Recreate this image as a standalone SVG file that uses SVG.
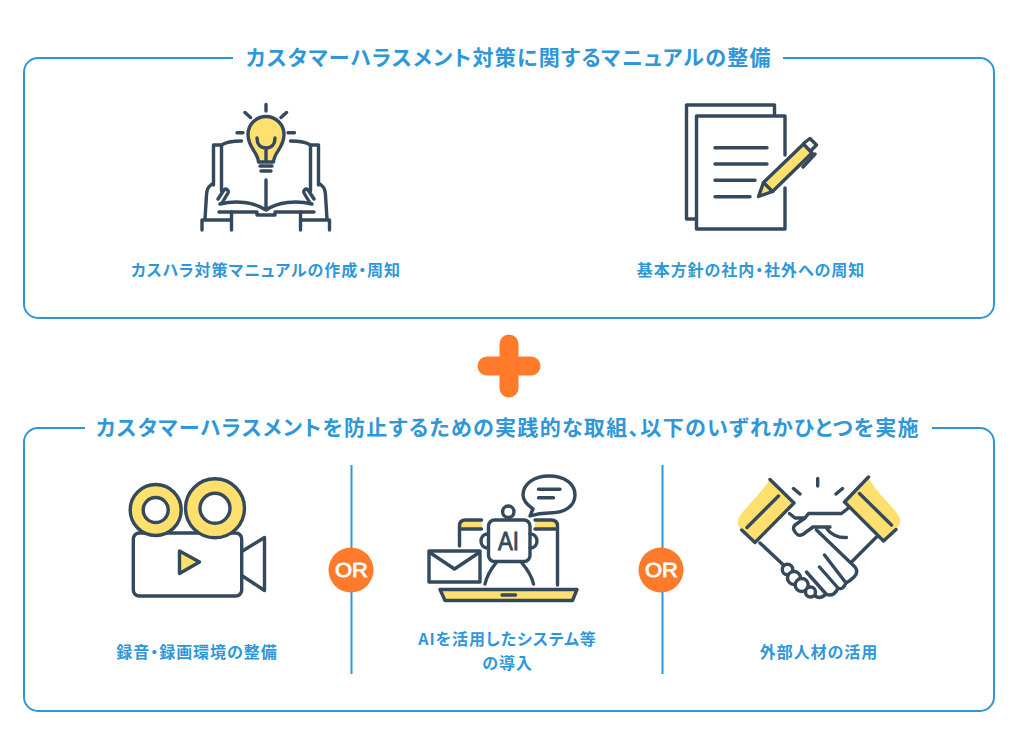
<svg xmlns="http://www.w3.org/2000/svg" width="1031" height="751" viewBox="0 0 1031 751">
<style>
.panel{fill:#fff;stroke:#2f97d8;stroke-width:2}
.title{font:700 21px "Noto Sans CJK JP","Noto Sans",sans-serif;fill:#2f97d8;text-anchor:middle;font-feature-settings:"palt";letter-spacing:1.32px}
.label{font:700 16px "Noto Sans CJK JP","Noto Sans",sans-serif;fill:#2f97d8;text-anchor:middle;font-feature-settings:"palt";letter-spacing:.95px}
.i{fill:none;stroke:#34495c;stroke-width:3.4;stroke-linecap:round;stroke-linejoin:round}
.w{fill:#fff}
.y{fill:#ffdf6e}
.ys{fill:#ffdf6e;stroke:none}
.sep{stroke:#2f97d8;stroke-width:2}
.or{fill:#ff7a2b}
.ort{font:400 20px "Liberation Sans",Arial,sans-serif;fill:#fff;stroke:#fff;stroke-width:.8}
.ai{font:400 25px "Liberation Sans",Arial,sans-serif;fill:#34495c;stroke:#34495c;stroke-width:.8}
</style>
<rect width="1031" height="751" fill="#fff"/>
<g id="panel-top">
<rect class="panel" x="24" y="58" width="970" height="260" rx="14"/>
<rect x="233" y="50" width="550" height="16" fill="#fff"/>
<text class="title" x="509" y="65">カスタマーハラスメント対策に関するマニュアルの整備</text>
</g>
<g id="plus"><path d="M509 344V388M487 366H531" fill="none" stroke="#ff7a2b" stroke-width="19" stroke-linecap="round"/></g>
<g id="panel-bottom">
<rect class="panel" x="24" y="428" width="970" height="283" rx="14"/>
<rect x="85" y="420" width="847" height="16" fill="#fff"/>
<text class="title" x="508" y="435">カスタマーハラスメントを防止するための実践的な取組、以下のいずれかひとつを実施</text>
</g>
<g id="connectors">
<path class="sep" d="M351.500 465V674M662.500 465V674"/>
</g>
<g id="or-1"><circle class="or" cx="351" cy="570" r="22.500"/><text class="ort" x="335" y="577" textLength="33" lengthAdjust="spacingAndGlyphs">OR</text></g>
<g id="or-2"><circle class="or" cx="661" cy="570" r="22.500"/><text class="ort" x="645" y="577" textLength="33" lengthAdjust="spacingAndGlyphs">OR</text></g>

<g id="node-manual">
<path class="i y" d="M258.500 162C258 152 248 148 248 134.500A18 18 0 0 1 284 134.500C284 148 274 152 273.500 162Z"/>
<path class="i" d="M257 138C257 144 260 148 266 148C272 148 275 144 275 138M266 148V161M260 166H272M261 171H271M266 104.500V111M245 112.500L250.500 117.500M286.500 112.500L281 117.500M237 132.700H243M288 132.700H294.500"/>
<path class="i" d="M241.500 141C233 141 226 142 221.500 145V191M221.500 145H213.500V185M290.500 141C299 141 306 142 310.500 145V191M310.500 145H318.500V185M266 180V210M220 204C236 200 254 202 266 210C278 202 296 200 312 204M219 212H257V215H275V212H314"/>
<path class="i" d="M212 184C207 188 207 190 206.500 195L205 219M202 230V220H231.500V230M231.500 220V212M218 199L224 190C226 188 229 190 228 193L222 203M320 184C325 188 325 190 325.500 195L327 219M329.500 230V220H300.500V230M300.500 220V212M314 199L308 190C306 188 303 190 304 193L310 203"/>
</g>
<text class="label" x="266" y="276">カスハラ対策マニュアルの作成・周知</text>

<g id="node-policy">
<path class="i" d="M774.500 115V105H686.500V219H696.500"/>
<path class="i" d="M785 155V116H696.500V229H785V188"/>
<path class="i" d="M715 147.700H767M715 164H767M715 180.300H755M715 196.700H750"/>
<path class="i y" d="M763.500 182.500L803.500 144L812 153L772.500 191.500L758.500 196.500Z"/>
<path class="i" d="M763.500 182.500L772.500 191.500M804 143L810 138.500L816.500 145L811 150.500M815 154L803 167"/>
</g>
<text class="label" x="751" y="276">基本方針の社内・社外への周知</text>

<g id="node-video">
<rect class="i w" x="133.300" y="533" width="108.400" height="63" rx="6"/>
<path class="i" d="M242.500 551L264.500 537.500V590.500L242.500 576"/>
<path class="i y" d="M179.500 551V573.500L199.500 562Z"/>
<circle class="i y" cx="155.700" cy="510" r="25.500"/>
<circle class="i w" cx="155.700" cy="510" r="12.500"/>
<circle class="i y" cx="215" cy="508.300" r="29.500"/>
<circle class="i w" cx="215" cy="508.300" r="15"/>
</g>
<text class="label" x="197" y="658">録音・録画環境の整備</text>

<g id="node-ai">
<path class="ys" d="M461 520H482V529H460ZM535 520H555L557 529H535Z"/>
<path class="i" d="M459.500 546V526Q459.500 520 465.500 520H481.500M459.500 529H481.500M535 520H551Q557.500 520 557.500 526V585M535 529H557.500"/>
<path class="i" d="M530 516L533 509C526 504 523 500 523 495C523 484 534 476 549 476C565 476 575 484 575 495C575 506 565 513 549 513C542 513 536 514 530 516ZM538.500 489.300H560M538.500 497.700H553.500"/>
<circle class="i" cx="508.300" cy="511.700" r="5.700"/>
<path class="i" d="M488 534C483 534 481 538 481 541C481 544 483 548 488 548M530 534C535 534 537 538 537 541C537 544 535 548 530 548"/>
<rect class="i" x="488.500" y="520" width="41.500" height="41.500" rx="6"/>
<text class="ai" x="498" y="550" textLength="21" lengthAdjust="spacingAndGlyphs">AI</text>
<path class="i" d="M485 584C487 575 491 569 496 563M533.500 584C531.500 575 527 569 522 563"/>
<rect class="i w" x="429" y="551" width="51" height="31"/>
<path class="i" d="M430.500 553L454.500 569L478.500 553"/>
<path class="i y" d="M440 589.500H577L572.500 600.500H445Z"/>
<path class="i" d="M502 595H515.500"/>
</g>
<text class="label" x="507.500" y="645">AIを活用したシステム等</text>
<text class="label" x="507.500" y="669">の導入</text>

<g id="node-talent">
<path class="ys" d="M770 479C762 492 750 503 742 513C736 520 737 527 742 530L755 542L794 503ZM868 477C875 490 888 502 896 512C902 519 901 525 896 529L884 541L845 502Z"/>
<path class="i" d="M770 479.500L794 503L755 542.500L741.700 530M778.500 496L747 527.500M868.500 477L844.500 502L883.500 541L896 529.500M859.500 493.500L891.500 525M817.700 478.500V486M793.500 488.500L800 494M842.500 488.500L836 494"/>
<path class="i" d="M789.500 513.500L795 518H805L808.500 513.500H841.500L848.500 508M805 518L795 525C792 528 794 532 798 535C801 536 804 534 806 532L813 527H830M826.500 528C830 534 838 538 846.500 537.500"/>
<path class="i" d="M816.500 530L855 567C858 571 857 574 854 577C851 580 848 582 846 583L824.500 555M846 583C844 587 842 590 838 588L819.500 567M838 588C836 593 832 597 826 594L806.500 572M826 594C822 598 818 598 815 596M876.500 537L851.500 562M760 543L783.500 565"/>
<circle class="i w" cx="787.500" cy="569.500" r="5.200"/>
<circle class="i w" cx="794" cy="578" r="6.500"/>
<circle class="i w" cx="801.700" cy="585" r="6.500"/>
<circle class="i w" cx="810.500" cy="592" r="5"/>
</g>
<text class="label" x="819" y="658">外部人材の活用</text>
</svg>
